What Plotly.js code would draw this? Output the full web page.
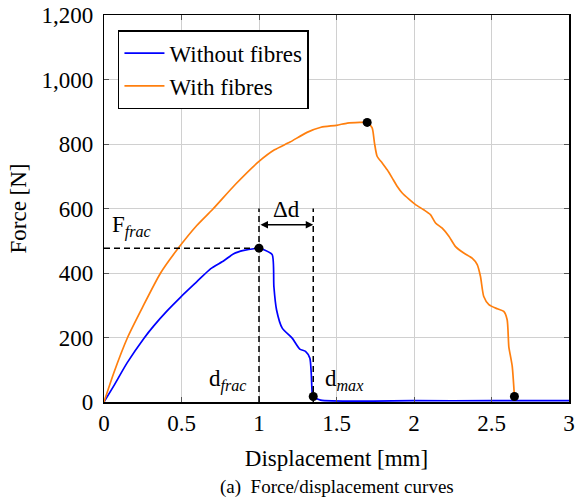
<!DOCTYPE html>
<html>
<head>
<meta charset="utf-8">
<script src="https://cdn.plot.ly/plotly-3.0.1.min.js"></script>
<style>html,body{margin:0;padding:0;background:#fff;}#chart{width:576px;height:504px;}</style>
</head>
<body>
<div id="chart"></div>
<script>
// Without fibres (blue)
const blueX = [0, 0.063, 0.15, 0.257, 0.321, 0.41, 0.498, 0.601, 0.687, 0.773, 0.837, 0.902, 0.977, 1.0,
  1.031, 1.085, 1.096, 1.113, 1.15, 1.214, 1.263, 1.3, 1.328, 1.337, 1.343, 1.35, 1.397, 2.0, 2.5, 3.0];
const blueY = [0, 50, 122, 197, 236, 284, 327, 374, 413, 438, 460, 470, 476, 477,
  472, 457, 358, 286, 229, 198, 164, 157, 136, 90, 30, 17, 6, 4, 4, 4];
// With fibres (orange)
const orangeX = [0, 0.063, 0.152, 0.25, 0.365, 0.476, 0.6, 0.7, 0.85, 1.0, 1.1, 1.2, 1.31, 1.4, 1.5, 1.57, 1.65, 1.698,
  1.73, 1.745, 1.762, 1.795, 1.827, 1.859, 1.891, 1.924, 1.967, 2.01, 2.063, 2.106, 2.139, 2.182, 2.225, 2.268,
  2.321, 2.375, 2.408, 2.429, 2.45, 2.483, 2.537, 2.579, 2.601, 2.612, 2.623, 2.634, 2.648];
const orangeY = [0, 90, 200, 295, 400, 475, 548, 597, 676, 746, 782, 806, 836, 852, 858, 865, 867, 867,
  850, 803, 762, 741, 720, 695, 669, 648, 629, 612, 596, 581, 555, 539, 514, 482,
  462, 446, 426, 389, 327, 302, 289, 281, 255, 170, 141, 110, 17];
// Marked points
const markX = [1.0, 1.35, 1.698, 2.648];
const markY = [477, 17, 867, 17];
const xTicks = [0, 0.5, 1, 1.5, 2, 2.5, 3];
const yTicks = [0, 200, 400, 600, 800, 1000, 1200];

const dFrac = markX[0], fFrac = markY[0], dMax = markX[1];
const FONT = 'Liberation Serif, Times New Roman, serif';

const traces = [
  {x: blueX, y: blueY, mode: 'lines', name: 'Without fibres', line: {color: '#0000ff', width: 1.7, shape: 'spline', smoothing: 0.6}},
  {x: orangeX, y: orangeY, mode: 'lines', name: 'With fibres', line: {color: '#ff7f0e', width: 1.7, shape: 'spline', smoothing: 0.6}},
  {x: markX, y: markY, mode: 'markers', showlegend: false, marker: {color: '#000', size: 9}, hoverinfo: 'skip'}
];

const dash = {color: '#000', width: 1.5, dash: '6px,4px'};
const shapes = [
  {type: 'line', xref: 'x', yref: 'y', x0: 0, x1: dFrac, y0: fFrac, y1: fFrac, line: dash},
  {type: 'line', xref: 'x', yref: 'y', x0: dFrac, x1: dFrac, y0: 0, y1: 600, line: dash},
  {type: 'line', xref: 'x', yref: 'y', x0: dMax, x1: dMax, y0: 0, y1: 600, line: dash}
];

const annFont = {family: FONT, size: 23, color: '#000'};
const annotations = [
  {x: dMax, y: 550, ax: dFrac, ay: 550, xref: 'x', yref: 'y', axref: 'x', ayref: 'y', text: '',
   showarrow: true, arrowhead: 2, arrowside: 'end+start', arrowwidth: 1.5, arrowsize: 1, arrowcolor: '#000', standoff: 0, startstandoff: 0},
  {x: (dFrac + dMax) / 2, y: 598, xref: 'x', yref: 'y', text: 'Δd', showarrow: false, font: annFont},
  {x: 0.04, y: 545, xref: 'x', yref: 'y', xanchor: 'left', text: 'F<sub><i>frac</i></sub>', showarrow: false, font: annFont},
  {x: 0.93, y: 66, xref: 'x', yref: 'y', xanchor: 'right', text: 'd<sub><i>frac</i></sub>', showarrow: false, font: annFont},
  {x: 1.414, y: 68, xref: 'x', yref: 'y', xanchor: 'left', text: 'd<sub><i>max</i></sub>', showarrow: false, font: annFont},
  {x: 0.5, y: -0.219, xref: 'paper', yref: 'paper', yanchor: 'middle', text: '(a)  Force/displacement curves', showarrow: false,
   font: {family: FONT, size: 19, color: '#000'}}
];

const axisCommon = {
  showgrid: true, gridcolor: '#d0d0d0', gridwidth: 1,
  showline: true, linecolor: '#000', linewidth: 1.5, mirror: 'ticks',
  ticks: 'inside', ticklen: 5, tickcolor: '#555', tickwidth: 1,
  zeroline: false, tickfont: {family: FONT, size: 23, color: '#000'}
};

const layout = {
  width: 576, height: 504,
  margin: {l: 104, r: 7, t: 15, b: 102},
  paper_bgcolor: '#fff', plot_bgcolor: '#fff',
  font: {family: FONT, color: '#000'},
  showlegend: true,
  legend: {x: 0.03, y: 0.961, xanchor: 'left', yanchor: 'top', bgcolor: '#fff', bordercolor: '#000', borderwidth: 1.5,
    font: {family: FONT, size: 23, color: '#000'}, itemwidth: 40, tracegroupgap: 0},
  xaxis: Object.assign({}, axisCommon, {range: [0, 3], tickvals: xTicks, ticktext: xTicks.map(String),
    title: {text: 'Displacement [mm]', font: {family: FONT, size: 23, color: '#000'}, standoff: 15}}),
  yaxis: Object.assign({}, axisCommon, {range: [0, 1200], tickvals: yTicks,
    ticktext: yTicks.map(v => v.toLocaleString('en-US') + '\u2009'),
    title: {text: 'Force [N]', font: {family: FONT, size: 23, color: '#000'}, standoff: 8}}),
  shapes: shapes,
  annotations: annotations
};

Plotly.newPlot('chart', traces, layout, {displayModeBar: false, staticPlot: true});
</script>
</body>
</html>
